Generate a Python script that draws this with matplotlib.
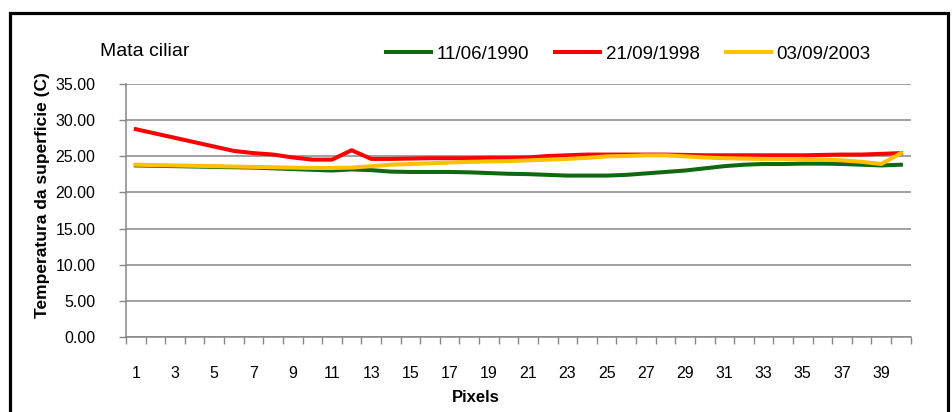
import matplotlib
matplotlib.use("Agg")
import matplotlib.pyplot as plt
from matplotlib.patches import Rectangle
import numpy as np

plt.rcParams['font.family'] = ['Liberation Sans', 'DejaVu Sans']

# data
pixels = list(range(1, 41))
t_1990 = [23.7, 23.65, 23.6, 23.55, 23.5, 23.45, 23.4, 23.3, 23.2, 23.1,
          23.0, 23.15, 23.05, 22.85, 22.8, 22.8, 22.8, 22.75, 22.65, 22.55,
          22.5, 22.4, 22.3, 22.3, 22.3, 22.4, 22.6, 22.8, 23.0, 23.3,
          23.6, 23.8, 23.9, 23.9, 23.95, 23.95, 23.9, 23.8, 23.7, 23.8]
t_1998 = [28.7, 28.1, 27.5, 26.9, 26.3, 25.7, 25.4, 25.2, 24.8, 24.5,
          24.5, 25.8, 24.6, 24.6, 24.65, 24.7, 24.7, 24.7, 24.75, 24.75,
          24.8, 25.0, 25.1, 25.2, 25.2, 25.2, 25.2, 25.2, 25.15, 25.1,
          25.1, 25.1, 25.1, 25.1, 25.1, 25.15, 25.2, 25.2, 25.3, 25.4]
t_2003 = [23.8, 23.75, 23.7, 23.65, 23.6, 23.55, 23.5, 23.45, 23.4, 23.35,
          23.35, 23.4, 23.6, 23.8, 23.9, 24.0, 24.1, 24.2, 24.25, 24.3,
          24.4, 24.5, 24.6, 24.75, 24.95, 25.0, 25.1, 25.1, 24.95, 24.8,
          24.7, 24.65, 24.6, 24.6, 24.6, 24.5, 24.4, 24.2, 23.9, 25.4]
series_labels = ['11/06/1990', '21/09/1998', '03/09/2003']
series_colors = ['#106810', '#ff0000', '#ffc000']
y_ticks = [0, 5, 10, 15, 20, 25, 30, 35]

W, H = 952, 412
fig = plt.figure(figsize=(W / 100, H / 100), dpi=100)
ax = fig.add_axes([126 / W, 1 - 337.3 / H, (910.7 - 126) / W, (337.3 - 83.5) / H])

for vals, lab, col in zip([t_1990, t_1998, t_2003], series_labels, series_colors):
    ax.plot(pixels, vals, color=col, lw=2.9, label=lab, solid_joinstyle='round')

ax.set_xlim(0.5, 40.5)
ax.set_ylim(0, 35)
ax.set_yticks(y_ticks)
ax.set_yticklabels([f'{v:.2f}' for v in y_ticks], fontsize=11.5)
ax.yaxis.grid(True, color='#868686', lw=1.1)
ax.set_axisbelow(True)

ax.set_xticks(pixels[::2])
ax.set_xticklabels([str(p) for p in pixels[::2]], fontsize=11.5)
ax.set_xticks(np.arange(0.5, 41, 1), minor=True)
ax.tick_params(axis='x', which='major', length=0, pad=21)
ax.tick_params(axis='x', which='minor', length=5, color='#868686', width=1)
ax.tick_params(axis='y', length=5, color='#868686', width=1, pad=17)

for s in ['top', 'right']:
    ax.spines[s].set_visible(False)
for s in ['left', 'bottom']:
    ax.spines[s].set_color('#868686')
    ax.spines[s].set_linewidth(1.1)

fig.text(43 / W, 1 - 195 / H, 'Temperatura da superficie (C)', rotation=90,
         ha='center', va='center', fontsize=12.5, fontweight='bold')
fig.text(476 / W, 1 - 398 / H, 'Pixels', ha='center', va='center',
         fontsize=12, fontweight='bold')
fig.text(100 / W, 1 - 51 / H, 'Mata ciliar', ha='left', va='center', fontsize=14)

fig.legend(loc='center', bbox_to_anchor=(628 / W, 1 - 54 / H), ncol=3,
           frameon=False, fontsize=13.5, handlelength=2.4, handletextpad=0.3,
           columnspacing=1.4, borderaxespad=0)

# outer chart border (bottom edge falls outside the picture)
fig.add_artist(Rectangle((10 / W, -0.05), (948 - 10) / W, 1.05 - 12.7 / H,
                         transform=fig.transFigure, fill=False, ec='black',
                         lw=2.3, clip_on=False))

fig.savefig('out.png', dpi=100, facecolor='white')
